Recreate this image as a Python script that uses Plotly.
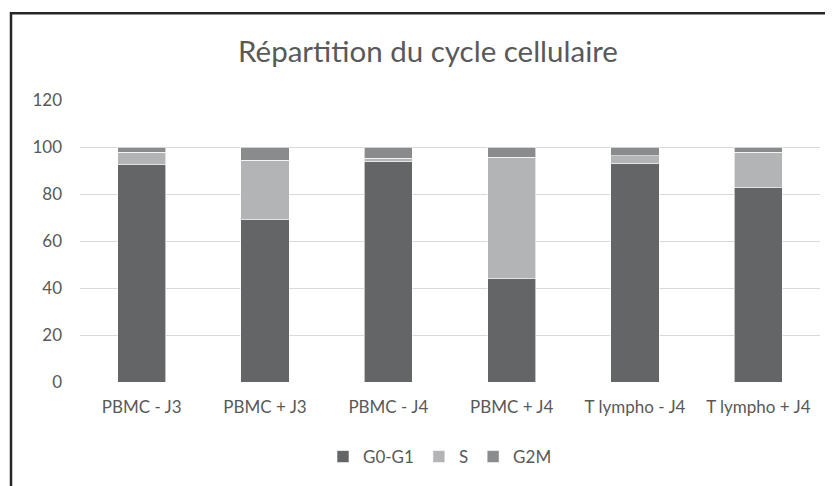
import plotly.graph_objects as go

categories = ["PBMC - J3", "PBMC + J3", "PBMC - J4", "PBMC + J4", "T lympho - J4", "T lympho + J4"]
g0g1 = [92.5, 69.0, 94.0, 44.0, 93.0, 82.6]
s_phase = [5.3, 25.3, 1.3, 51.7, 3.3, 15.1]
g2m = [2.2, 5.7, 4.7, 4.3, 3.7, 2.3]

series = [("G0-G1", g0g1, "#646567"), ("S", s_phase, "#b3b4b6"), ("G2M", g2m, "#8a8b8d")]

font_family = "Lato, 'Open Sans', sans-serif"
text_color = "#595959"

W, H = 825, 478
L, R, T, B = 72, 13, 92, 103
plot_w = W - L - R
plot_h = H - T - B

fig = go.Figure()
for name, vals, col in series:
    fig.add_trace(go.Bar(
        x=categories, y=vals, name=name,
        marker=dict(color=col, line=dict(color="#ffffff", width=0.6)),
        width=0.39,
    ))

fig.update_layout(
    width=W, height=H,
    barmode="stack",
    paper_bgcolor="white", plot_bgcolor="white",
    margin=dict(l=L, r=R, t=T, b=B),
    font=dict(family=font_family, color=text_color, size=17),
    title=dict(text="Répartition du cycle cellulaire", x=420 / W, xanchor="center",
               xref="container", y=1 - 44 / H, yanchor="middle",
               font=dict(size=29.5, color=text_color, family=font_family)),
    xaxis=dict(showgrid=False, showline=False, ticks="", tickfont=dict(size=17),
               ticklabelstandoff=13),
    yaxis=dict(range=[0, 120], dtick=20, showgrid=True, gridcolor="#d9d9d9", gridwidth=1.3,
               zeroline=False, showline=False, ticks="", tickfont=dict(size=17),
               ticklabelstandoff=17),
    legend=dict(orientation="h", x=(432 - L) / plot_w, xanchor="center",
                y=(T + plot_h - 449) / plot_h, yanchor="middle",
                font=dict(size=17), itemwidth=30, traceorder="normal"),
    shapes=[dict(type="rect", xref="paper", yref="paper",
                 x0=(3 - L) / plot_w, x1=1.2, y0=-0.6, y1=(T + plot_h - 5) / plot_h,
                 line=dict(color="#262626", width=2.5), layer="below")],
)

fig.write_html("out.html")
